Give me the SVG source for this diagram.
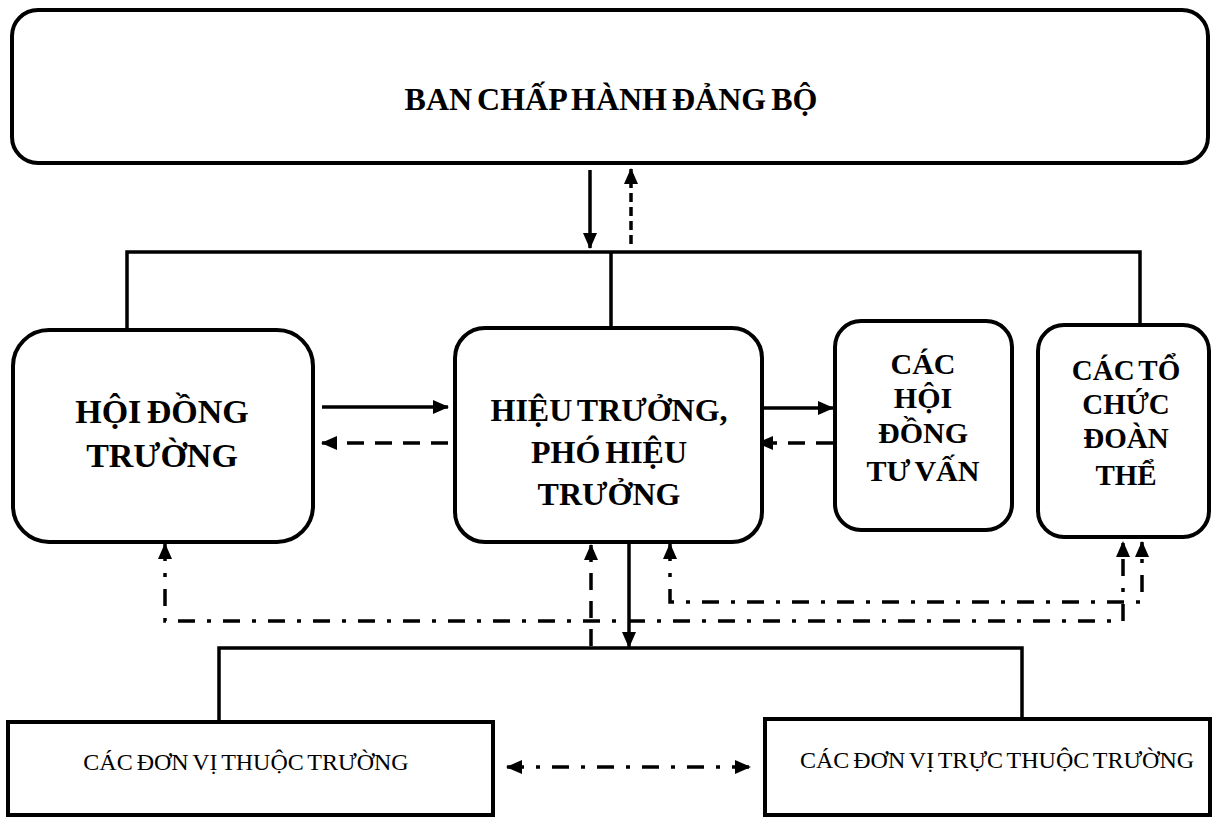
<svg xmlns="http://www.w3.org/2000/svg" width="1220" height="817" viewBox="0 0 1220 817">
<style>
.box{fill:#fff;stroke:#000;stroke-width:4}
.ln{fill:none;stroke:#000;stroke-width:3.5}
.dash{stroke-dasharray:17 11}
.dashs{stroke-dasharray:9 5}
.dd{stroke-dasharray:17 12 4 12}
.b{font-family:"Liberation Serif","Times New Roman",serif;font-weight:bold;fill:#000;text-anchor:middle;word-spacing:-3px}
.r{font-family:"Liberation Serif","Times New Roman",serif;fill:#000;text-anchor:middle;word-spacing:-2px}
</style>
<defs>
<marker id="ah" viewBox="0 0 16 14" refX="15" refY="7" markerWidth="16" markerHeight="14" markerUnits="userSpaceOnUse" orient="auto-start-reverse">
<path d="M0,0 L16,7 L0,14 z" fill="#000"/>
</marker>
</defs>
<rect width="1220" height="817" fill="#fff"/>
<g id="connectors">
<path class="ln" d="M590,170 V248" marker-end="url(#ah)"/>
<path class="ln dashs" d="M631,244 V169" marker-end="url(#ah)"/>
<path class="ln" d="M127,330 V252 H1140 V325 M611,252 V328"/>
<path class="ln" d="M322,407 H448" marker-end="url(#ah)"/>
<path class="ln dash" d="M448,443 H322" marker-end="url(#ah)"/>
<path class="ln" d="M762,408 H833" marker-end="url(#ah)"/>
<path class="ln dash" d="M833,443 H758" marker-end="url(#ah)"/>
<path class="ln" d="M629,542 V647" marker-end="url(#ah)"/>
<path class="ln" d="M219,722 V648 H1022 V719"/>
<path class="ln dash" d="M591,646 V545" marker-end="url(#ah)"/>
<path class="ln dd" d="M165,544 V621 H1123 V542" marker-start="url(#ah)" marker-end="url(#ah)"/>
<path class="ln dd" d="M670,544 V602 H1142 V542" marker-start="url(#ah)" marker-end="url(#ah)"/>
<path class="ln dd" d="M507,767 H750" marker-start="url(#ah)" marker-end="url(#ah)"/>
</g>
<g id="ban-chap-hanh">
<rect class="box" x="12" y="10" width="1196" height="153" rx="26"/>
<text class="b" x="611" y="110" font-size="32">BAN CHẤP HÀNH ĐẢNG BỘ</text>
</g>
<g id="hoi-dong-truong">
<rect class="box" x="13" y="330" width="300" height="212" rx="36"/>
<text class="b" x="162" y="423" font-size="34">HỘI ĐỒNG</text>
<text class="b" x="162" y="467" font-size="34">TRƯỜNG</text>
</g>
<g id="hieu-truong">
<rect class="box" x="455" y="328" width="307" height="214" rx="30"/>
<text class="b" x="609" y="421" font-size="32">HIỆU TRƯỞNG,</text>
<text class="b" x="609" y="463" font-size="32">PHÓ HIỆU</text>
<text class="b" x="609" y="505" font-size="32">TRƯỞNG</text>
</g>
<g id="hoi-dong-tu-van">
<rect class="box" x="835" y="321" width="177" height="209" rx="26"/>
<text class="b" x="923" y="374" font-size="30">CÁC</text>
<text class="b" x="923" y="408" font-size="30">HỘI</text>
<text class="b" x="923" y="443" font-size="30">ĐỒNG</text>
<text class="b" x="923" y="481" font-size="30">TƯ VẤN</text>
</g>
<g id="to-chuc-doan-the">
<rect class="box" x="1038" y="325" width="171" height="212" rx="26"/>
<text class="b" x="1126" y="380" font-size="29">CÁC TỔ</text>
<text class="b" x="1126" y="414" font-size="29">CHỨC</text>
<text class="b" x="1126" y="448" font-size="29">ĐOÀN</text>
<text class="b" x="1126" y="485" font-size="29">THỂ</text>
</g>
<g id="don-vi-thuoc">
<rect class="box" x="8" y="722" width="485" height="93"/>
<text class="r" x="246" y="770" font-size="24">CÁC ĐƠN VỊ THUỘC TRƯỜNG</text>
</g>
<g id="don-vi-truc-thuoc">
<rect class="box" x="765" y="719" width="445" height="96"/>
<text class="r" x="997" y="768" font-size="24">CÁC ĐƠN VỊ TRỰC THUỘC TRƯỜNG</text>
</g>
</svg>
